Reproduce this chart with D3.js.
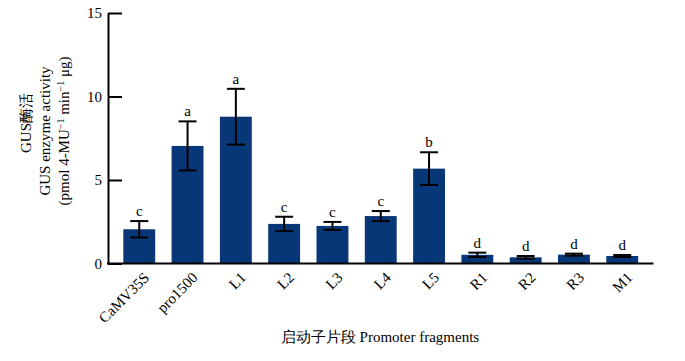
<!DOCTYPE html>
<html><head><meta charset="utf-8">
<script src="https://cdn.jsdelivr.net/npm/d3@7"></script>
<style>body{margin:0;background:#fff}svg{display:block}</style>
</head><body>
<script>
const categories = ["CaMV35S","pro1500","L1","L2","L3","L4","L5","R1","R2","R3","M1"];
const values = [2.05, 7.04, 8.79, 2.37, 2.25, 2.84, 5.68, 0.52, 0.37, 0.53, 0.45];
const errors = [0.49, 1.47, 1.67, 0.43, 0.24, 0.30, 0.98, 0.13, 0.08, 0.06, 0.06];
const letters = ["c","a","a","c","c","c","b","d","d","d","d"];
const yTicks = [0, 5, 10, 15];

const W = 685, H = 361;
const svg = d3.select("body").append("svg").attr("width", W).attr("height", H);
const serif = "'Liberation Serif','Times New Roman',serif";

const x = d3.scaleBand().domain(categories).range([108, 653.5]).paddingInner(0.34).paddingOuter(0.317);
const y = d3.scaleLinear().domain([0, 15]).range([263.5, 13]);

// bars
svg.selectAll("rect.bar").data(categories).enter().append("rect")
  .attr("x", d => x(d)).attr("width", x.bandwidth())
  .attr("y", (d,i) => y(values[i])).attr("height", (d,i) => y(0) - y(values[i]))
  .attr("fill", "#083777");

// error bars
const eb = svg.append("g").attr("stroke", "#000").attr("stroke-width", 2);
categories.forEach((c, i) => {
  const cx = x(c) + x.bandwidth()/2;
  const top = y(values[i] + errors[i]), bot = y(values[i] - errors[i]);
  eb.append("line").attr("x1", cx).attr("x2", cx).attr("y1", top).attr("y2", bot);
  eb.append("line").attr("x1", cx-9).attr("x2", cx+9).attr("y1", top).attr("y2", top);
  eb.append("line").attr("x1", cx-9).attr("x2", cx+9).attr("y1", bot).attr("y2", bot);
  svg.append("text").attr("x", cx).attr("y", top - 5).attr("text-anchor", "middle")
    .attr("font-family", serif).attr("font-size", 15).text(letters[i]);
});

// y axis
const yAxis = d3.axisLeft(y).tickValues(yTicks).tickSizeInner(-14).tickSizeOuter(0).tickPadding(6);
const gy = svg.append("g").attr("transform", "translate(108,0)").call(yAxis);
gy.select(".domain").attr("stroke", "#000").attr("stroke-width", 2);
gy.selectAll(".tick line").attr("stroke", "#000").attr("stroke-width", 2);
gy.selectAll(".tick text").attr("font-family", serif).attr("font-size", 15).attr("fill", "#000");

// x axis
const xAxis = d3.axisBottom(x).tickSize(0).tickPadding(0);
const gx = svg.append("g").attr("transform", "translate(0,263.5)").call(xAxis);
gx.select(".domain").attr("stroke", "#000").attr("stroke-width", 2).attr("d", "M107,0H653.5");
gx.selectAll(".tick text").attr("font-family", serif).attr("font-size", 15).attr("fill", "#000")
  .attr("text-anchor", "end").attr("dy", null).attr("y", 0)
  .attr("transform", "translate(11,15) rotate(-45)");

// axis titles
svg.append("text").attr("x", 380).attr("y", 342).attr("text-anchor", "middle")
  .attr("font-family", serif).attr("font-size", 15).text("启动子片段 Promoter fragments");

const yl = svg.append("g").attr("transform", "translate(0,131) rotate(-90)");
yl.append("text").attr("x", 8).attr("y", 31).attr("text-anchor", "middle")
  .attr("font-family", serif).attr("font-size", 15).text("GUS酶活");
yl.append("text").attr("x", 0).attr("y", 50).attr("text-anchor", "middle")
  .attr("font-family", serif).attr("font-size", 15).text("GUS enzyme activity");
const t3 = yl.append("text").attr("x", 0).attr("y", 69).attr("text-anchor", "middle")
  .attr("font-family", serif).attr("font-size", 15);
t3.append("tspan").text("(pmol 4-MU");
t3.append("tspan").attr("dy", -5).attr("font-size", 10).text("−1");
t3.append("tspan").attr("dy", 5).text(" min");
t3.append("tspan").attr("dy", -5).attr("font-size", 10).text("−1");
t3.append("tspan").attr("dy", 5).text(" μg)");
</script>
</body></html>
